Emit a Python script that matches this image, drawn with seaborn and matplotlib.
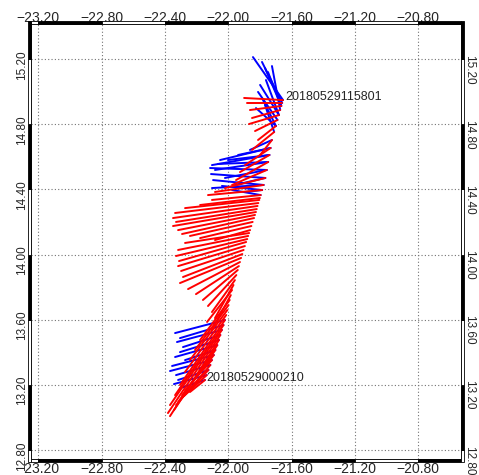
import numpy as np
import pandas as pd
import matplotlib.pyplot as plt
import matplotlib.transforms as mtransforms
from matplotlib.patches import Rectangle
from matplotlib.ticker import FuncFormatter
import seaborn as sns

sns.set_style("white")
plt.rcParams['font.family'] = ['Liberation Sans', 'DejaVu Sans']

# track positions (start of each vector), north -> south
track_lon = [-21.654, -21.659, -21.665, -21.672, -21.680, -21.689, -21.699, -21.710,
             -21.724, -21.733, -21.740, -21.748, -21.757, -21.766, -21.777, -21.786,
             -21.795, -21.800, -21.804, -21.810, -21.815, -21.820, -21.825, -21.831,
             -21.837, -21.846, -21.854, -21.862, -21.868, -21.874, -21.880, -21.887,
             -21.895, -21.903, -21.911, -21.919, -21.926, -21.933, -21.940, -21.949,
             -21.958, -21.967, -21.976, -21.984, -21.991, -21.998, -22.006, -22.013,
             -22.021, -22.030, -22.040, -22.050, -22.059, -22.069, -22.081, -22.091,
             -22.103, -22.113, -22.125, -22.136, -22.147]
track_lat = [14.948, 14.930, 14.912, 14.887, 14.856, 14.826, 14.789, 14.752,
             14.703, 14.654, 14.611, 14.568, 14.519, 14.470, 14.427, 14.396,
             14.365, 14.347, 14.335, 14.316, 14.298, 14.279, 14.261, 14.243,
             14.224, 14.200, 14.175, 14.150, 14.132, 14.114, 14.095, 14.077,
             14.052, 14.028, 14.003, 13.979, 13.954, 13.929, 13.905, 13.874,
             13.843, 13.813, 13.782, 13.751, 13.721, 13.690, 13.659, 13.629,
             13.598, 13.567, 13.537, 13.506, 13.475, 13.444, 13.414, 13.383,
             13.352, 13.322, 13.291, 13.260, 13.230]

# red vector tips, one per track position
red_lon = [-21.900, -21.881, -21.863, -21.850, -21.869, -21.831, -21.812, -21.850,
           -21.799, -21.894, -21.926, -21.951, -21.976, -22.021, -22.084, -22.128,
           -22.103, -22.178, -22.273, -22.336, -22.349, -22.330, -22.349, -22.317,
           -22.292, -22.242, -22.178, -22.084, -22.273, -22.317, -22.330, -22.311,
           -22.317, -22.298, -22.286, -22.305, -22.254, -22.204, -22.160, -22.128,
           -22.103, -22.084, -22.134, -22.103, -22.178, -22.210, -22.242, -22.273,
           -22.305, -22.336, -22.368, -22.381, -22.368, -22.343, -22.317, -22.292,
           -22.273, -22.330, -22.305, -22.280, -22.242]
red_lat = [14.961, 14.930, 14.887, 14.838, 14.801, 14.758, 14.703, 14.642,
           14.611, 14.549, 14.506, 14.457, 14.427, 14.408, 14.384, 14.365,
           14.335, 14.304, 14.285, 14.255, 14.224, 14.200, 14.175, 14.150,
           14.126, 14.114, 14.101, 14.089, 14.071, 14.028, 13.991, 13.960,
           13.929, 13.899, 13.862, 13.825, 13.788, 13.757, 13.721, 13.684,
           13.647, 13.610, 13.586, 13.537, 13.475, 13.414, 13.352, 13.279,
           13.199, 13.137, 13.076, 13.027, 13.008, 13.045, 13.094, 13.137,
           13.168, 13.076, 13.107, 13.131, 13.156]

# blue vectors: track index and tip
blue_idx = [0, 1, 2, 3, 4, 5, 6, 7, 2, 4, 6,
            8, 9, 10, 11, 12, 13, 14, 15, 16, 9, 10, 11, 12, 13, 14, 15,
            48, 49, 50, 51, 52, 53, 54, 55, 56, 57, 58, 59, 60]
blue_lon = [-21.844, -21.787, -21.768, -21.724, -21.799, -21.812, -21.787, -21.768,
            -21.749, -21.762, -21.825,
            -21.863, -21.938, -22.002, -22.065, -22.115, -22.109, -22.096, -22.040, -21.976,
            -22.052, -22.103, -22.084, -22.021, -21.957, -22.103, -21.894,
            -22.336, -22.305, -22.324, -22.286, -22.305, -22.336, -22.273, -22.355,
            -22.368, -22.330, -22.317, -22.343, -22.305]
blue_lat = [15.212, 15.182, 15.145, 15.157, 15.041, 14.998, 14.961, 14.918,
            15.120, 15.071, 14.899,
            14.642, 14.611, 14.580, 14.556, 14.531, 14.494, 14.457, 14.421, 14.396,
            14.580, 14.549, 14.519, 14.470, 14.427, 14.408, 14.384,
            13.518, 13.487, 13.463, 13.432, 13.401, 13.371, 13.352, 13.316,
            13.285, 13.260, 13.230, 13.205, 13.180]

start_label = "20180529000210"
end_label = "20180529115801"

xlim = (-23.246, -20.53)
ylim = (12.745, 15.415)
xticks = [-23.2, -22.8, -22.4, -22.0, -21.6, -21.2, -20.8]
yticks = [12.8, 13.2, 13.6, 14.0, 14.4, 14.8, 15.2]

rows = []
for i in range(len(track_lon)):
    rows.append(("r%d" % i, "red", track_lon[i], track_lat[i]))
    rows.append(("r%d" % i, "red", red_lon[i], red_lat[i]))
for j, i in enumerate(blue_idx):
    rows.append(("b%d" % j, "blue", track_lon[i], track_lat[i]))
    rows.append(("b%d" % j, "blue", blue_lon[j], blue_lat[j]))
df = pd.DataFrame(rows, columns=["seg", "kind", "lon", "lat"])

fig = plt.figure(figsize=(4.79, 4.75), dpi=100)
ax = fig.add_axes([31/479, 16/475, 430/479, 435/475])

sns.lineplot(data=df, x="lon", y="lat", hue="kind", units="seg", estimator=None,
             sort=False, hue_order=["blue", "red"],
             palette={"blue": "#0000ff", "red": "#ff0000"},
             lw=1.4, legend=False, ax=ax)

ax.set_xlim(*xlim)
ax.set_ylim(*ylim)
ax.set_xlabel("")
ax.set_ylabel("")
ax.set_xticks(xticks)
ax.set_yticks(yticks)
ax.grid(True, color="0.45", linestyle=(0, (1, 2)), lw=0.8)
ax.set_axisbelow(True)

fmt = FuncFormatter(lambda v, p: ("%.2f" % v).replace("-", "\u2212"))
ax.xaxis.set_major_formatter(fmt)
ax.yaxis.set_major_formatter(fmt)
ax.tick_params(axis="x", top=True, bottom=True, labeltop=True, labelbottom=True,
               length=0, pad=2.0, labelsize=10)
ax.tick_params(axis="y", left=True, right=True, labelleft=True, labelright=True,
               length=0, pad=1.8, labelsize=8.5)
up = mtransforms.ScaledTranslation(0, 4.5/100, fig.dpi_scale_trans)
for t in ax.yaxis.get_major_ticks():
    t.label1.set_rotation(90)
    t.label2.set_rotation(-90)
    t.label1.set_transform(t.label1.get_transform() + up)
for t in ax.xaxis.get_major_ticks():
    t.label2.set_transform(t.label2.get_transform() +
                           mtransforms.ScaledTranslation(0, -2.5/72, fig.dpi_scale_trans))

for s in ax.spines.values():
    s.set_linewidth(0.6)
    s.set_color("black")

# GMT style fancy frame
tx = 3.2 / 158.3
ty = 3.2 / 162.9
def segs(lo, hi, ticks):
    b = [lo] + [v for v in ticks if lo < v < hi] + [hi]
    return [(b[k], b[k + 1]) for k in range(len(b) - 1)]
for a, b in segs(xlim[0], xlim[1], xticks):
    c = "black" if int(np.floor(a / 0.4 + 1e-6)) % 2 == 0 else "white"
    for y0 in (ylim[1], ylim[0] - ty):
        ax.add_patch(Rectangle((a, y0), b - a, ty, facecolor=c, edgecolor="black",
                               lw=0.6, clip_on=False, zorder=5))
for a, b in segs(ylim[0], ylim[1], yticks):
    c = "black" if int(np.floor(a / 0.4 + 1e-6)) % 2 == 0 else "white"
    a0 = a - ty if a == ylim[0] else a
    b0 = b + ty if b == ylim[1] else b
    for x0 in (xlim[0] - tx, xlim[1]):
        ax.add_patch(Rectangle((x0, a0), tx, b0 - a0, facecolor=c, edgecolor="black",
                               lw=0.6, clip_on=False, zorder=5))

ax.annotate(end_label, (track_lon[0], track_lat[0]), xytext=(1.5, 2),
            textcoords="offset points", ha="left", va="center", fontsize=9)
ax.annotate(start_label, (track_lon[-1], track_lat[-1]), xytext=(1, 1.5),
            textcoords="offset points", ha="left", va="center", fontsize=9)

fig.savefig("out.png", dpi=100)
